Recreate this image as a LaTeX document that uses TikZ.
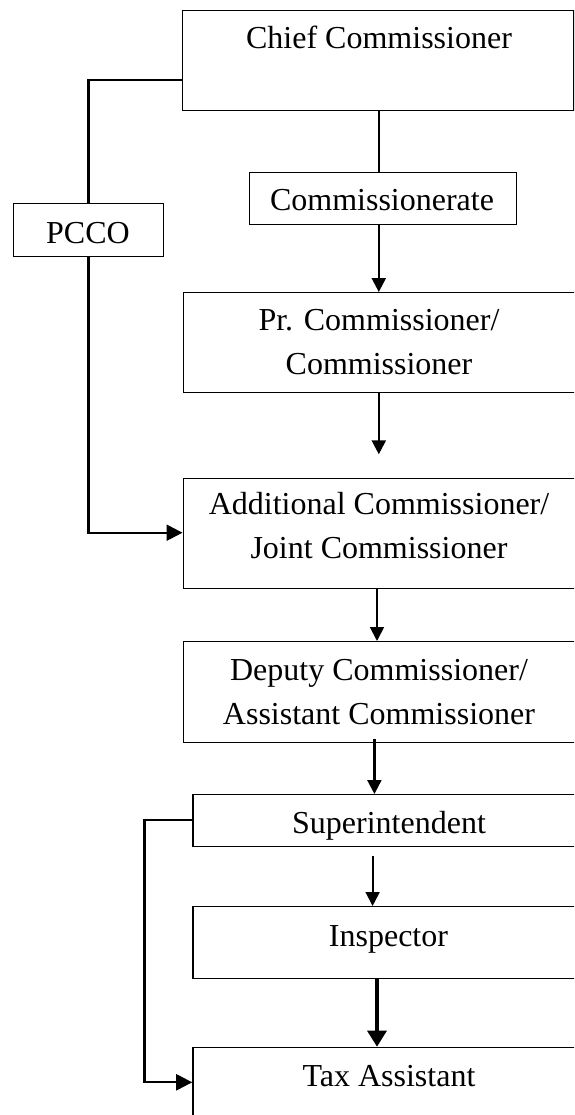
\documentclass[tikz,border=0pt]{standalone}
\usepackage{fontspec}
\setmainfont{Liberation Serif}
\usetikzlibrary{arrows.meta,calc}
\tikzset{
  box/.style={draw, line width=1.4pt, inner sep=0pt, anchor=north west},
  lbl/.style={font=\fontsize{32}{44}\selectfont, align=center, anchor=base, inner sep=0pt},
  conn/.style={line width=2.3pt},
  thinconn/.style={line width=1.8pt},
  tip/.style={-{Triangle[length=14pt,width=14pt]}},
  bigtip/.style={-{Triangle[length=16pt,width=16pt]}},
}
\begin{document}
\begin{tikzpicture}[x=1pt,y=-1pt]
\useasboundingbox (0,0) rectangle (574,1115);
\clip (0,0) rectangle (574,1115);
% boxes
\node[box, minimum width=391.3pt, minimum height=100pt] (chief) at (182,10) {};
\node[box, minimum width=267pt, minimum height=52.3pt] (comm) at (248.5,171.7) {};
\node[box, minimum width=150.2pt, minimum height=53pt] (pcco) at (12.8,203) {};
\node[box, minimum width=400pt, minimum height=100pt] (pr) at (182.5,292) {};
\node[box, minimum width=392pt, minimum height=110pt] (addl) at (182.5,477.7) {};
\node[box, minimum width=400pt, minimum height=101pt] (dep) at (182.5,641) {};
\node[box, minimum width=400pt, minimum height=52pt] (sup) at (192.2,794) {};
\node[box, minimum width=400pt, minimum height=72pt] (insp) at (192.2,906) {};
\node[box, minimum width=400pt, minimum height=100pt] (tax) at (192.2,1046.7) {};
% texts (base anchor = last line baseline)
\node[lbl] (chiefT) at (379,49) {Chief Commissioner};
\node[lbl] (commT) at (382,211) {Commissionerate};
\node[lbl] (pccoT) at (88,243.3) {PCCO};
\node[lbl] (prT) at (379,374) {Pr. Commissioner/\\Commissioner};
\node[lbl] (addlT) at (379,558.3) {Additional Commissioner/\\Joint Commissioner};
\node[lbl] (depT) at (379,724.3) {Deputy Commissioner/\\Assistant Commissioner};
\node[lbl] (supT) at (389,833.3) {Superintendent};
\node[lbl] (inspT) at (388.5,946) {Inspector};
\node[lbl] (taxT) at (389,1086.7) {Tax Assistant};
% axis coordinates
\coordinate (ax1) at (378.8,0);
\coordinate (ax2) at (377,0);
\coordinate (ax3) at (374.4,0);
\coordinate (ax4) at (372.6,0);
\coordinate (p5) at (378.8,454.3);
\coordinate (p9) at (372.6,856);
% connectors
\draw[conn] ($(chief.north west)+(0,70)$) -| (pcco.north);
\draw[conn, bigtip] (pcco.south) |- ($(addl.north west)+(0,55)$);
\draw[conn] (ax1 |- chief.south) -- (ax1 |- comm.north);
\draw[conn, tip] (ax1 |- comm.south) -- (ax1 |- pr.north);
\draw[conn, tip] (ax1 |- pr.south) -- (p5);
\draw[thinconn, tip] (ax2 |- addl.south) -- (ax2 |- dep.north);
\draw[conn, tip] ($(ax3 |- dep.south)+(0,-4)$) -- (ax3 |- sup.north);
\draw[conn, bigtip] ($(sup.north west)+(0,26)$) -- ++(-47.6,0) |- ($(tax.north west)+(0,35.6)$);
\draw[thinconn, tip] (p9) -- (ax4 |- insp.north);
\draw[line width=3.2pt, -{Triangle[length=16pt,width=19pt]}] (ax2 |- insp.south) -- (ax2 |- tax.north);
\end{tikzpicture}
\end{document}
